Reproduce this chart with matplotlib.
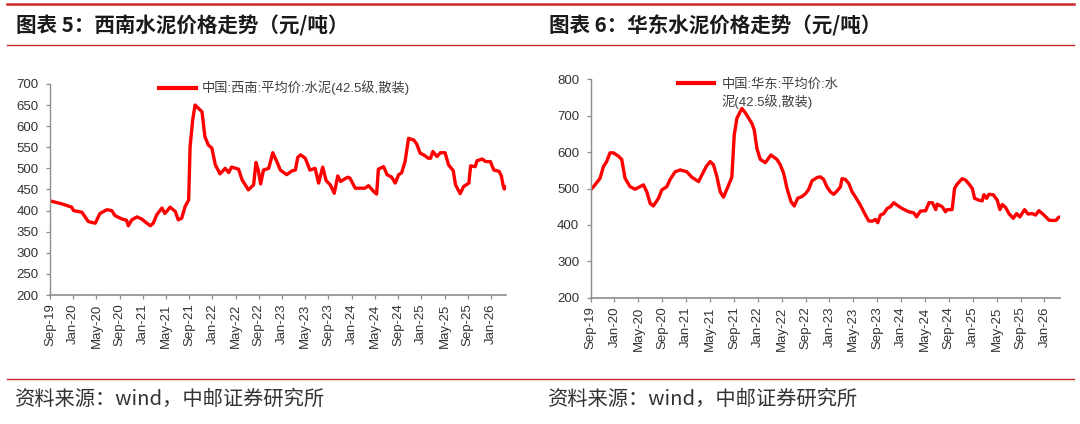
import matplotlib
matplotlib.use("Agg")
import matplotlib.pyplot as plt
from matplotlib.lines import Line2D

plt.rcParams['font.family'] = ['Liberation Sans', 'Noto Sans CJK SC', 'DejaVu Sans']

# ---------------- data (x = months since Sep-2019) ----------------
tick_labels = ["Sep-19", "Jan-20", "May-20", "Sep-20", "Jan-21", "May-21", "Sep-21",
               "Jan-22", "May-22", "Sep-22", "Jan-23", "May-23", "Sep-23", "Jan-24",
               "May-24", "Sep-24", "Jan-25", "May-25", "Sep-25", "Jan-26"]
tick_months = [0, 4, 8, 12, 16, 20, 24, 28, 32, 36, 40, 44, 48, 52, 56, 60, 64, 68, 72, 76]

sw_months = [0, 2.0, 3.75, 4.05, 5.5, 6.6, 7.8, 8.6, 9.8, 10.65,
             11.2, 12.4, 13.2, 13.5, 14.1, 15.0, 15.8, 16.7, 17.3, 17.8,
             18.4, 19.3, 19.8, 20.7, 21.6, 22.1, 22.7, 23.3, 23.9, 24.15,
             24.6, 25.0, 25.6, 26.2, 26.7, 27.3, 27.9, 28.5, 29.3, 30.2,
             30.8, 31.3, 32.5, 33.1, 34.2, 35.1, 35.5, 35.9, 36.3, 36.8,
             37.7, 38.4, 39.1, 39.7, 40.8, 41.7, 42.3, 42.7, 43.2, 44.0,
             44.8, 45.7, 46.3, 47.0, 47.6, 48.3, 49.0, 49.6, 50.1, 51.3,
             51.7, 52.6, 54.3, 54.9, 55.8, 56.3, 56.6, 57.5, 58.1, 58.9,
             59.5, 60.1, 60.6, 61.2, 61.8, 62.7, 63.2, 63.8, 64.4, 65.2,
             65.6, 66.0, 66.7, 67.3, 68.1, 68.7, 69.5, 69.9, 70.7, 71.3,
             72.2, 72.5, 73.3, 73.6, 74.5, 75.1, 75.9, 76.5, 77.4, 77.8,
             78.1, 78.3, 78.6]
sw_price = [423, 416, 408, 400, 396, 374, 370, 393, 402, 400,
            388, 380, 377, 364, 378, 385, 380, 370, 364, 370,
            390, 406, 393, 408, 398, 378, 382, 410, 425, 552,
            615, 650, 642, 634, 575, 555, 548, 508, 487, 500,
            490, 503, 498, 473, 449, 461, 514, 496, 463, 496,
            500, 537, 516, 496, 485, 494, 496, 526, 532, 524,
            496, 500, 465, 503, 471, 461, 441, 482, 469, 479,
            477, 453, 453, 459, 445, 439, 498, 504, 485, 479,
            465, 485, 489, 516, 571, 567, 558, 536, 532, 524,
            524, 540, 528, 537, 537, 508, 495, 461, 440, 457,
            465, 506, 504, 518, 522, 516, 516, 496, 493, 482,
            460, 451, 456]

ec_months = [0, 0.74, 1.58, 2.14, 2.69, 3.25, 3.81, 4.65, 5.21, 5.77,
             6.61, 7.45, 8.29, 8.85, 9.41, 9.97, 10.51, 11.36, 11.92, 12.76,
             13.32, 14.15, 15.0, 16.1, 16.95, 18.07, 18.63, 19.35, 20.02, 20.58,
             21.14, 21.7, 22.26, 22.82, 23.65, 24.05, 24.5, 25.34, 25.9, 26.46,
             27.0, 27.4, 27.85, 28.41, 29.25, 29.8, 30.2, 31.2, 31.76, 32.32,
             32.88, 33.55, 34.1, 34.67, 35.4, 36.0, 36.5, 37.07, 37.91, 38.47,
             39.03, 39.59, 40.15, 40.7, 41.26, 41.82, 42.1, 42.67, 43.22, 43.78,
             44.34, 45.18, 46.02, 46.58, 47.13, 47.69, 48.08, 48.53, 49.08, 49.65,
             50.22, 50.77, 51.33, 52.17, 53.29, 54.13, 54.58, 55.24, 56.1, 56.67,
             57.23, 57.8, 58.03, 58.87, 59.43, 59.71, 60.54, 60.94, 61.38, 62.22,
             62.8, 63.37, 63.92, 64.3, 65.02, 65.58, 65.86, 66.31, 66.7, 67.42,
             68.09, 68.54, 68.93, 69.49, 70.05, 70.78, 71.33, 71.89, 72.67, 73.24,
             73.96, 74.52, 75.07, 75.92, 76.76, 77.5, 78.0, 78.3, 78.6]
ec_price = [496, 510, 528, 560, 574, 598, 598, 589, 580, 528,
            505, 498, 505, 510, 491, 459, 452, 473, 496, 505,
            525, 546, 551, 546, 531, 519, 537, 560, 574, 565,
            533, 491, 476, 498, 531, 647, 693, 720, 708, 693,
            679, 661, 610, 580, 571, 583, 592, 580, 565, 542,
            501, 464, 452, 473, 478, 486, 497, 521, 530, 532,
            525, 504, 491, 484, 493, 504, 527, 525, 514, 491,
            477, 454, 427, 411, 410, 415, 406, 427, 431, 445,
            450, 461, 454, 445, 436, 433, 422, 438, 439, 461,
            461, 442, 457, 450, 436, 442, 442, 500, 512, 527,
            523, 512, 500, 473, 468, 466, 483, 473, 484, 483,
            468, 442, 456, 448, 431, 418, 431, 422, 442, 430,
            431, 427, 439, 427, 413, 412, 413, 420, 422]

titles = ["图表 5：西南水泥价格走势（元/吨）", "图表 6：华东水泥价格走势（元/吨）"]
legend_labels = ["中国:西南:平均价:水泥(42.5级,散装)", "中国:华东:平均价:水\n泥(42.5级,散装)"]
source_text = "资料来源：wind，中邮证券研究所"
sw_yticks = [200, 250, 300, 350, 400, 450, 500, 550, 600, 650, 700]
ec_yticks = [200, 300, 400, 500, 600, 700, 800]

W, H = 1080, 424
fig = plt.figure(figsize=(W / 100, H / 100), dpi=100)
fig.patch.set_facecolor("white")

def fx(px):
    return px / W

def fy(py):
    return 1 - py / H

RED = "#FF0000"
DARK_RED = "#C9262C"
TXT = "#333333"
AX = "#8C8C8C"

# header / footer rules
fig.add_artist(Line2D([fx(7), fx(1074)], [fy(4), fy(4)], color=DARK_RED, lw=1.8))
fig.add_artist(Line2D([fx(7), fx(1074)], [fy(45), fy(45)], color=DARK_RED, lw=1.0))
fig.add_artist(Line2D([fx(7), fx(1074)], [fy(379), fy(379)], color=DARK_RED, lw=1.0))

for tx, t in zip([16, 549], titles):
    fig.text(fx(tx), fy(25.5), t, family=['Noto Sans CJK SC'], fontweight='bold',
             fontsize=14.8, color="#1a1a1a", va='center', ha='left')
for tx in [15, 548]:
    fig.text(fx(tx), fy(399), source_text, family=['Noto Sans CJK SC'],
             fontsize=14.6, color=TXT, va='center', ha='left')

def style_axes(ax, yticks, ylim):
    ax.set_xlim(0, 78.6)
    ax.set_ylim(*ylim)
    ax.set_yticks(yticks)
    ax.set_xticks(tick_months)
    ax.set_xticklabels(tick_labels, rotation=90)
    for s in ["top", "right"]:
        ax.spines[s].set_visible(False)
    ax.spines["left"].set_color(AX)
    ax.spines["bottom"].set_color(AX)
    ax.spines["left"].set_linewidth(1.0)
    ax.spines["bottom"].set_linewidth(1.2)
    ax.tick_params(axis='y', direction='out', length=3.2, width=0.9, color=AX,
                   pad=5, labelsize=9.5, labelcolor=TXT)
    ax.tick_params(axis='x', direction='out', length=3.2, width=0.9, color=AX,
                   pad=3, labelsize=9.5, labelcolor=TXT)
    ax.set_facecolor("white")

# left chart
ax1 = fig.add_axes([fx(50), fy(295), fx(506 - 50), (295 - 83.9) / H])
ax1.plot(sw_months, sw_price, color=RED, lw=2.4, solid_joinstyle='round',
         label=legend_labels[0])
style_axes(ax1, sw_yticks, (200, 700))
leg1 = ax1.legend(loc='upper left', bbox_to_anchor=(fx(159), fy(80.5)),
                  bbox_transform=fig.transFigure, frameon=False, borderpad=0,
                  borderaxespad=0, handlelength=2.8, handletextpad=0.45,
                  fontsize=9.5, labelcolor="#404040")
for l in leg1.get_lines():
    l.set_linewidth(3.0)

# right chart
ax2 = fig.add_axes([fx(590.6), fy(297.7), fx(1060 - 590.6), (297.7 - 79.3) / H])
ax2.plot(ec_months, ec_price, color=RED, lw=2.4, solid_joinstyle='round',
         label=legend_labels[1])
style_axes(ax2, ec_yticks, (200, 800))
leg2 = ax2.legend(loc='upper left', bbox_to_anchor=(fx(677.7), fy(78.5)),
                  bbox_transform=fig.transFigure, frameon=False, borderpad=0,
                  borderaxespad=0, handlelength=2.75, handletextpad=0.55,
                  fontsize=9.5, labelcolor="#404040")
for l in leg2.get_lines():
    l.set_linewidth(3.0)
for t in leg2.get_texts():
    t.set_linespacing(1.3)
try:
    for col in leg2._legend_handle_box.get_children():
        for item in col.get_children():
            item.align = 'top'
except Exception:
    pass

fig.savefig("out.png", dpi=100, facecolor="white")
